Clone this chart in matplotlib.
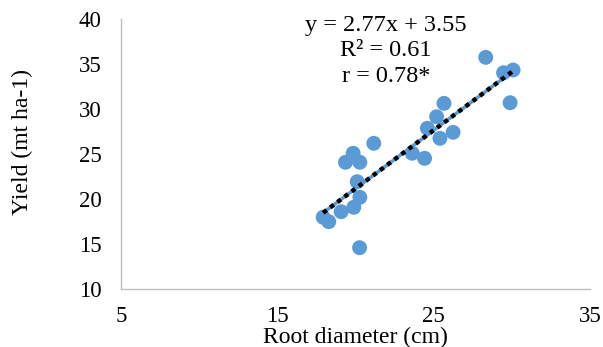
import numpy as np
import matplotlib
matplotlib.use("Agg")
import matplotlib.pyplot as plt

root_diameter = [17.93, 18.29, 19.08, 19.89, 20.28, 20.11, 19.36, 19.85, 20.28, 21.17, 20.26,
                 23.63, 24.42, 24.60, 25.19, 25.40, 25.66, 26.24, 28.33, 29.47, 30.08, 29.89]
yield_vals = [17.97, 17.48, 18.59, 19.08, 20.19, 21.92, 24.08, 25.08, 24.08, 26.19, 14.59,
              25.08, 24.52, 27.86, 29.14, 26.74, 30.63, 27.41, 35.74, 34.03, 34.33, 30.70]
eq_lines = ["y = 2.77x + 3.55", "R² = 0.61", "r = 0.78*"]
xticks = [5, 15, 25, 35]
yticks = [10, 15, 20, 25, 30, 35, 40]

plt.rcParams['font.family'] = ['Liberation Serif', 'DejaVu Serif']

W, H = 603, 347
fig = plt.figure(figsize=(W/100, H/100), dpi=100)
ax = fig.add_axes([121/W, (H-289)/H, (590-121)/W, (289-19)/H])

x = np.array(root_diameter)
y = np.array(yield_vals)
ax.scatter(x, y, s=115, color='#5B9BD5', edgecolors='none', zorder=3)

m, b = np.polyfit(x, y, 1)
xs = np.array([x.min(), x.max()])
ax.plot(xs, m*xs + b, color='#5B9BD5', lw=2.5, zorder=4, solid_capstyle='butt')
ax.plot(xs, m*xs + b, color='black', lw=3.2, linestyle=(0, (1, 1)), zorder=5)

ax.set_xlim(5, 35)
ax.set_ylim(10, 40)
ax.set_xticks(xticks)
ax.set_yticks(yticks)
ax.tick_params(length=0, labelsize=16.5)
ax.tick_params(axis='y', pad=14)
ax.tick_params(axis='x', pad=12)
for s in ['top', 'right']:
    ax.spines[s].set_visible(False)
for s in ['left', 'bottom']:
    ax.spines[s].set_color('#BFBFBF')
    ax.spines[s].set_linewidth(1)

ax.set_xlabel('Root diameter (cm)', fontsize=17, va='center')
ax.xaxis.set_label_coords(0.499, -0.178)
ax.set_ylabel('Yield (mt ha-1)', fontsize=17, va='center')
ax.yaxis.set_label_coords(-0.211, 0.544)

for i, t in enumerate(eq_lines):
    fig.text(386/W, 1 - (25 + 26*i)/H, t, ha='center', va='center', fontsize=17.5)

fig.savefig('out.png', dpi=100)
